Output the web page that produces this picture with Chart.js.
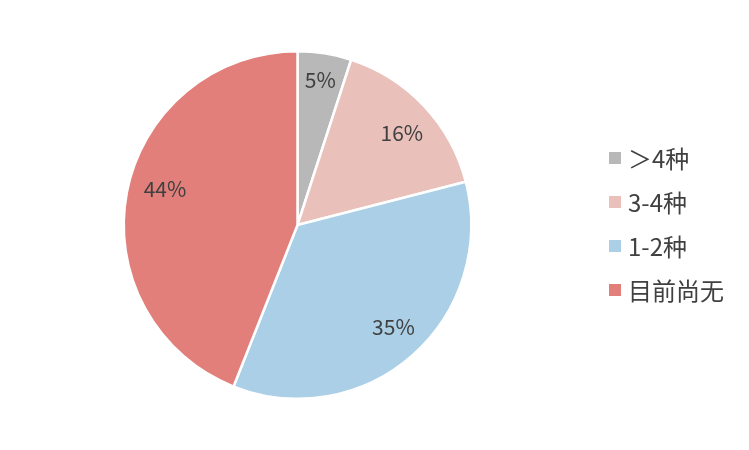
<!DOCTYPE html>
<html><head><meta charset="utf-8">
<script src="https://cdn.jsdelivr.net/npm/chart.js@4"></script>
<style>html,body{margin:0;padding:0;background:#fff}#wrap{width:749px;height:450px}</style>
</head><body><div id="wrap"><canvas id="c" width="749" height="450"></canvas></div>
<script>
const categories = ['＞4种', '3-4种', '1-2种', '目前尚无'];
const values = [5, 16, 35, 44];
const colors = ['#b7b8b7', '#e9c0ba', '#abcfe6', '#e27f7b'];
const labelNudge = [[1, -8], [3, 3], [4, -2], [4, -10]];
const FONT = '"Noto Sans CJK SC", "Noto Sans", sans-serif';

const labelPlugin = {
  id: 'sliceLabels',
  afterDatasetsDraw(chart) {
    const ctx = chart.ctx;
    const meta = chart.getDatasetMeta(0);
    ctx.save();
    ctx.font = '21px ' + FONT;
    ctx.fillStyle = '#404040';
    ctx.textAlign = 'center';
    ctx.textBaseline = 'middle';
    meta.data.forEach((arc, i) => {
      const p = arc.getProps(['x','y','startAngle','endAngle','outerRadius'], true);
      const mid = (p.startAngle + p.endAngle) / 2;
      const r = p.outerRadius * 0.8;
      ctx.fillText(values[i] + '%', p.x + Math.cos(mid) * r + labelNudge[i][0], p.y + Math.sin(mid) * r + labelNudge[i][1]);
    });
    ctx.restore();
  }
};

const legendPlugin = {
  id: 'sideLegend',
  afterDraw(chart) {
    const ctx = chart.ctx;
    const ys = [158, 202, 246, 290];
    ctx.save();
    ctx.font = '24px ' + FONT;
    ctx.textBaseline = 'middle';
    ctx.textAlign = 'left';
    chart.data.labels.forEach((lab, i) => {
      ctx.fillStyle = chart.data.datasets[0].backgroundColor[i];
      ctx.fillRect(609, ys[i] - 6, 12, 12);
      ctx.fillStyle = '#404040';
      ctx.fillText(lab, 628, ys[i] + 1);
    });
    ctx.restore();
  }
};

new Chart(document.getElementById('c'), {
  type: 'pie',
  data: {
    labels: categories,
    datasets: [{
      data: values,
      backgroundColor: colors,
      borderColor: '#ffffff',
      borderWidth: 2.5
    }]
  },
  options: {
    responsive: false,
    animation: false,
    layout: { padding: { left: 122, right: 276, top: 50, bottom: 50 } },
    plugins: { legend: { display: false }, tooltip: { enabled: false } }
  },
  plugins: [labelPlugin, legendPlugin]
});
</script></body></html>
